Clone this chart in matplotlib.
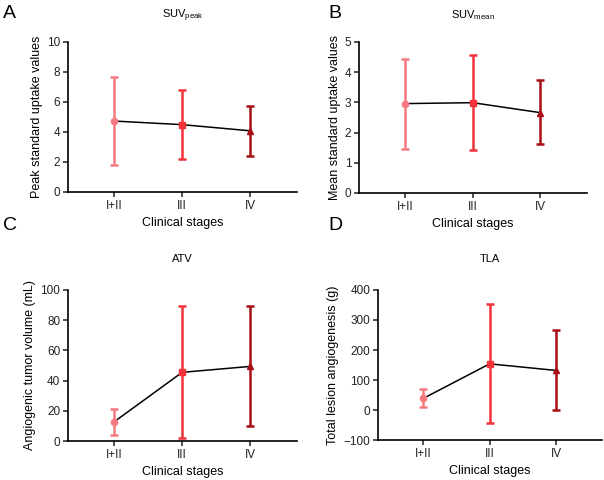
import matplotlib.pyplot as plt
import numpy as np

plt.rcParams['font.family'] = ['Liberation Sans', 'DejaVu Sans']

stages = ["I+II", "III", "IV"]
colors = ["#F47A80", "#F4333B", "#A80F14"]
markers = ["o", "s", "^"]

suv_peak_mean = [4.73, 4.49, 4.08]
suv_peak_low = [1.80, 2.20, 2.42]
suv_peak_high = [7.67, 6.78, 5.76]

suv_mean_mean = [2.96, 2.99, 2.66]
suv_mean_low = [1.46, 1.43, 1.61]
suv_mean_high = [4.45, 4.58, 3.75]

atv_mean = [12.8, 45.5, 49.4]
atv_low = [4.2, 2.0, 10.2]
atv_high = [21.2, 89.4, 89.4]

tla_mean = [38.8, 154.0, 132.0]
tla_low = [8.9, -42.0, 0.0]
tla_high = [68.7, 352.0, 267.0]


def panel(ax, mean, low, high, title, ylabel, yticks, tpad):
    x = np.arange(len(stages))
    ax.plot(x, mean, color="black", lw=1.1, zorder=2)
    for i in range(len(stages)):
        err = [[mean[i] - low[i]], [high[i] - mean[i]]]
        ax.errorbar(x[i], mean[i], yerr=err, color=colors[i], marker=markers[i],
                    ms=4.5, elinewidth=1.8, capsize=3, capthick=1.8, zorder=3)
    ax.set_xlim(-0.68, 2.69)
    ax.set_ylim(yticks[0], yticks[-1])
    ax.set_yticks(yticks)
    ax.set_xticks(x)
    ax.set_xticklabels(stages)
    for s in ["top", "right"]:
        ax.spines[s].set_visible(False)
    for s in ["left", "bottom"]:
        ax.spines[s].set_linewidth(1.2)
    ax.tick_params(length=3.5, width=1.1, labelsize=8.5, pad=2, colors="#222222")
    ax.set_xlabel("Clinical stages", fontsize=9, labelpad=4)
    ax.set_ylabel(ylabel, fontsize=9, labelpad=3)
    ax.set_title(title, fontsize=8, pad=tpad)


fig = plt.figure(figsize=(6.04, 4.8), dpi=100)
axA = fig.add_axes([0.1126, 0.600, 0.3791, 0.3125])
axB = fig.add_axes([0.5944, 0.598, 0.3775, 0.3145])
axC = fig.add_axes([0.1126, 0.081, 0.3791, 0.315])
axD = fig.add_axes([0.6258, 0.083, 0.3709, 0.313])

panel(axA, suv_peak_mean, suv_peak_low, suv_peak_high,
      r"SUV$_{\mathregular{peak}}$", "Peak standard uptake values", [0, 2, 4, 6, 8, 10], 17)
panel(axB, suv_mean_mean, suv_mean_low, suv_mean_high,
      r"SUV$_{\mathregular{mean}}$", "Mean standard uptake values", [0, 1, 2, 3, 4, 5], 17)
panel(axC, atv_mean, atv_low, atv_high,
      "ATV", "Angiogenic tumor volume (mL)", [0, 20, 40, 60, 80, 100], 20)
panel(axD, tla_mean, tla_low, tla_high,
      "TLA", "Total lesion angiogenesis (g)", [-100, 0, 100, 200, 300, 400], 20)

for lab, x, y in [("A", 0.005, 0.99), ("B", 0.543, 0.99), ("C", 0.005, 0.548), ("D", 0.543, 0.548)]:
    fig.text(x, y, lab, fontsize=14, va="top", ha="left")

fig.savefig("out.png", dpi=100)
